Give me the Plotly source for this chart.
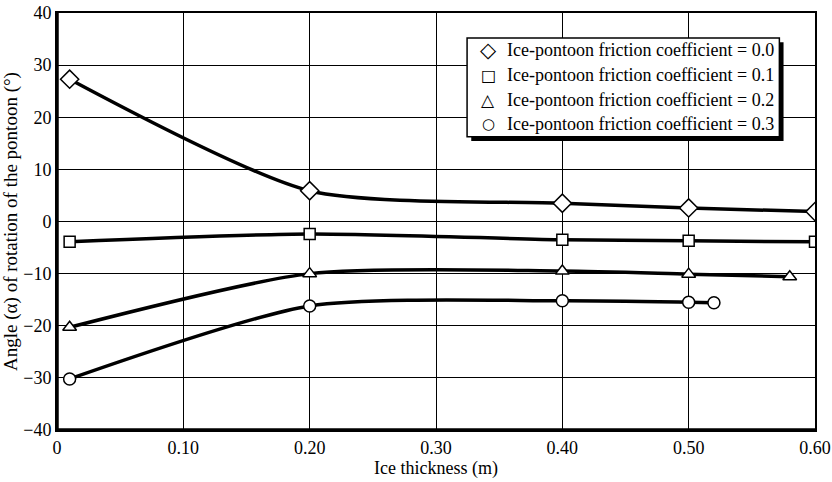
import plotly.graph_objects as go

x_mu0 = [0.01, 0.20, 0.40, 0.50, 0.60]
y_mu0 = [27.3, 5.9, 3.5, 2.6, 1.9]
x_mu1 = [0.01, 0.20, 0.40, 0.50, 0.60]
y_mu1 = [-3.9, -2.4, -3.5, -3.7, -3.9]
x_mu2 = [0.01, 0.20, 0.40, 0.50, 0.58]
y_mu2 = [-20.3, -10.0, -9.5, -10.1, -10.6]
x_mu3 = [0.01, 0.20, 0.40, 0.50, 0.52]
y_mu3 = [-30.2, -16.2, -15.2, -15.5, -15.6]

names = ["Ice-pontoon friction coefficient = 0.0",
         "Ice-pontoon friction coefficient = 0.1",
         "Ice-pontoon friction coefficient = 0.2",
         "Ice-pontoon friction coefficient = 0.3"]
symbols = ["diamond", "square", "triangle-up", "circle"]
legend_glyphs = ["\u25C7", "\u25A1", "\u25B3", "\u25CB"]
legend_glyph_sizes = [21, 16, 17, 15]
sizes = [14, 11, 12, 12]

x_tickvals = [0, 0.1, 0.2, 0.3, 0.4, 0.5, 0.6]
x_ticktext = ["0", "0.10", "0.20", "0.30", "0.40", "0.50", "0.60"]
y_tickvals = [-40, -30, -20, -10, 0, 10, 20, 30, 40]

FONT = "Liberation Serif, Times New Roman, serif"

fig = go.Figure()
for xs, ys, nm, sym, sz in zip([x_mu0, x_mu1, x_mu2, x_mu3],
                               [y_mu0, y_mu1, y_mu2, y_mu3],
                               names, symbols, sizes):
    fig.add_trace(go.Scatter(
        x=xs, y=ys, name=nm, mode="lines+markers", showlegend=False,
        line=dict(color="black", width=3.5, shape="spline", smoothing=0.7),
        marker=dict(symbol=sym, size=sz, color="white",
                    line=dict(color="black", width=1.5)),
    ))

# legend box (drawn manually to match the boxed, shadowed key)
LX0, LX1, LY0, LY1 = 0.541, 0.953, 0.703, 0.940
SH_X, SH_Y = 0.0055, 0.010
fig.add_shape(type="rect", xref="paper", yref="paper",
              x0=LX0 + SH_X, x1=LX1 + SH_X, y0=LY0 - SH_Y, y1=LY1 - SH_Y,
              fillcolor="black", line=dict(width=0), layer="above")
fig.add_shape(type="rect", xref="paper", yref="paper",
              x0=LX0, x1=LX1, y0=LY0, y1=LY1,
              fillcolor="white", line=dict(color="black", width=1.5), layer="above")
row_h = (LY1 - LY0) / 4
for i, (nm, g, gs) in enumerate(zip(names, legend_glyphs, legend_glyph_sizes)):
    yc = LY1 - row_h * (i + 0.5)
    fig.add_annotation(xref="paper", yref="paper", x=0.569, y=yc,
                       text=g, showarrow=False, xanchor="center", yanchor="middle",
                       font=dict(family="DejaVu Sans", size=gs, color="black"))
    fig.add_annotation(xref="paper", yref="paper", x=0.591, y=yc,
                       text=nm, showarrow=False, xanchor="left", yanchor="middle",
                       font=dict(family=FONT, size=18, color="black"))

# heavier left and bottom axis lines
fig.add_shape(type="line", xref="paper", yref="paper", x0=0, x1=0, y0=0, y1=1,
              line=dict(color="black", width=3.5), layer="above")
fig.add_shape(type="line", xref="paper", yref="paper", x0=0, x1=1, y0=0, y1=0,
              line=dict(color="black", width=3.5), layer="above")

fig.update_layout(
    width=832, height=482,
    margin=dict(l=57, r=17, t=13, b=52, autoexpand=False),
    paper_bgcolor="white", plot_bgcolor="white",
    font=dict(family=FONT, size=18, color="black"),
    showlegend=False,
    xaxis=dict(range=[0, 0.6], tickvals=x_tickvals, ticktext=x_ticktext,
               automargin=False,
               showgrid=True, gridcolor="black", gridwidth=1,
               showline=True, linecolor="black", linewidth=2, mirror=True,
               zeroline=False, ticks="", tickfont=dict(size=18),
               title=dict(text="Ice thickness (m)", font=dict(size=18), standoff=2)),
    yaxis=dict(range=[-40, 40], tickvals=y_tickvals,
               automargin=False,
               showgrid=True, gridcolor="black", gridwidth=1,
               showline=True, linecolor="black", linewidth=2, mirror=True,
               zeroline=False, ticks="", tickfont=dict(size=18),
               title=dict(text="Angle (\u03b1) of rotation of the pontoon (\u00b0)",
                          font=dict(size=19), standoff=4)),
)

fig.write_html("out.html")
